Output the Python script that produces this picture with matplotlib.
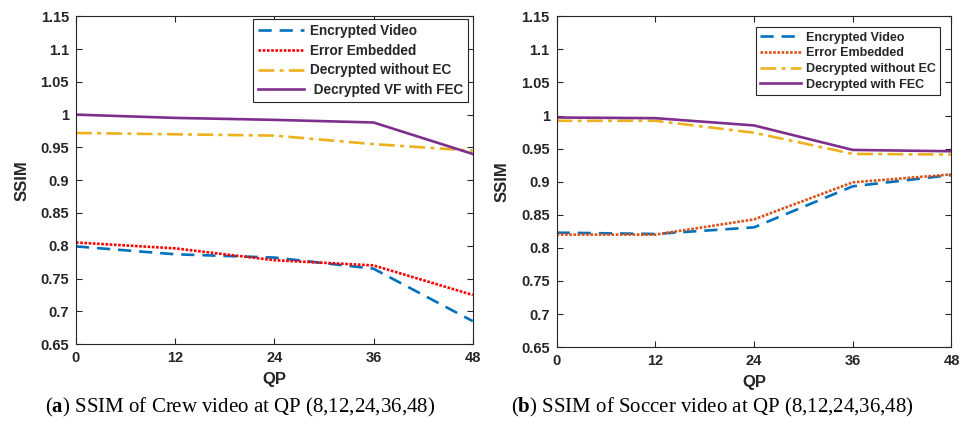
import matplotlib
matplotlib.use("Agg")
import matplotlib.pyplot as plt

# QP values on the x axis
qp = [0, 12, 24, 36, 48]

# (a) Crew video
crew_encrypted = [0.799, 0.787, 0.782, 0.765, 0.685]
crew_error = [0.805, 0.796, 0.778, 0.770, 0.725]
crew_no_ec = [0.972, 0.970, 0.968, 0.955, 0.945]
crew_fec = [1.000, 0.995, 0.992, 0.988, 0.940]

# (b) Soccer video
soccer_encrypted = [0.823, 0.821, 0.831, 0.893, 0.910]
soccer_error = [0.820, 0.820, 0.843, 0.899, 0.911]
soccer_no_ec = [0.992, 0.992, 0.974, 0.942, 0.941]
soccer_fec = [0.997, 0.996, 0.985, 0.948, 0.946]

yticks = [0.65, 0.7, 0.75, 0.8, 0.85, 0.9, 0.95, 1, 1.05, 1.1, 1.15]
ytick_labels = ["0.65", "0.7", "0.75", "0.8", "0.85", "0.9", "0.95", "1", "1.05", "1.1", "1.15"]

plt.rcParams["font.family"] = "Liberation Sans"
plt.rcParams["mathtext.fontset"] = "custom"
plt.rcParams["mathtext.rm"] = "Liberation Serif"
plt.rcParams["mathtext.bf"] = "Liberation Serif:bold"

BLUE = "#0072BD"
ORANGE = "#D95319"
YELLOW = "#EDB120"
PURPLE = "#7E2F8E"
TXT = "#262626"

fig = plt.figure(figsize=(9.63, 4.28), dpi=100)
ax1 = fig.add_axes([0.0789, 0.196, 0.412, 0.766])
ax2 = fig.add_axes([0.578, 0.189, 0.410, 0.773])


def draw(ax, enc, err, no_ec, fec, err_color, fec_label, leg_box, leg_size, leg_space, handle_len):
    lw = 1.9
    ax.plot(qp, enc, color=BLUE, lw=lw, ls=(0, (5, 3)), label="Encrypted Video")
    ax.plot(qp, err, color=err_color, lw=lw, ls=(0, (1, 0.6)), label="Error Embedded")
    ax.plot(qp, no_ec, color=YELLOW, lw=lw, ls=(0, (6, 2, 1.5, 2)), label="Decrypted without EC")
    ax.plot(qp, fec, color=PURPLE, lw=lw, label=fec_label)
    ax.set_xlim(0, 48)
    ax.set_ylim(0.65, 1.15)
    ax.set_xticks(qp)
    ax.set_xticklabels([str(v) for v in qp], fontweight="bold", color=TXT, fontsize=10.5)
    ax.set_yticks(yticks)
    ax.set_yticklabels(ytick_labels, fontweight="bold", color=TXT, fontsize=10.5)
    ax.tick_params(direction="in", top=True, right=True, length=4, width=0.8, colors=TXT, pad=5)
    for sp in ax.spines.values():
        sp.set_color(TXT)
        sp.set_linewidth(0.8)
    ax.set_xlabel("QP", fontweight="bold", fontsize=12, color=TXT, labelpad=5)
    ax.set_ylabel("SSIM", fontweight="bold", fontsize=12, color=TXT, labelpad=8)
    leg = ax.legend(loc="upper right", bbox_to_anchor=leg_box, fontsize=leg_size,
                    handlelength=handle_len, handletextpad=0.4, labelspacing=leg_space,
                    borderpad=0.35, fancybox=False, framealpha=1,
                    edgecolor=TXT, borderaxespad=0)
    leg.get_frame().set_linewidth(0.8)
    for t in leg.get_texts():
        t.set_fontweight("bold")
        t.set_color(TXT)


draw(ax1, crew_encrypted, crew_error, crew_no_ec, crew_fec, "#FF0000",
     " Decrypted VF with FEC", (0.987, 0.991), 9.8, 0.42, 3.4)
draw(ax2, soccer_encrypted, soccer_error, soccer_no_ec, soccer_fec, ORANGE,
     "Decrypted with FEC", (0.972, 0.967), 9.0, 0.3, 3.3)

fig.text(0.249, 0.049, r"($\mathbf{a}$) SSIM of Crew video at QP (8,12,24,36,48)",
         ha="center", va="center", fontsize=15, family="Liberation Serif")
fig.text(0.740, 0.049, r"($\mathbf{b}$) SSIM of Soccer video at QP (8,12,24,36,48)",
         ha="center", va="center", fontsize=15, family="Liberation Serif")

fig.savefig("out.png", dpi=100)
